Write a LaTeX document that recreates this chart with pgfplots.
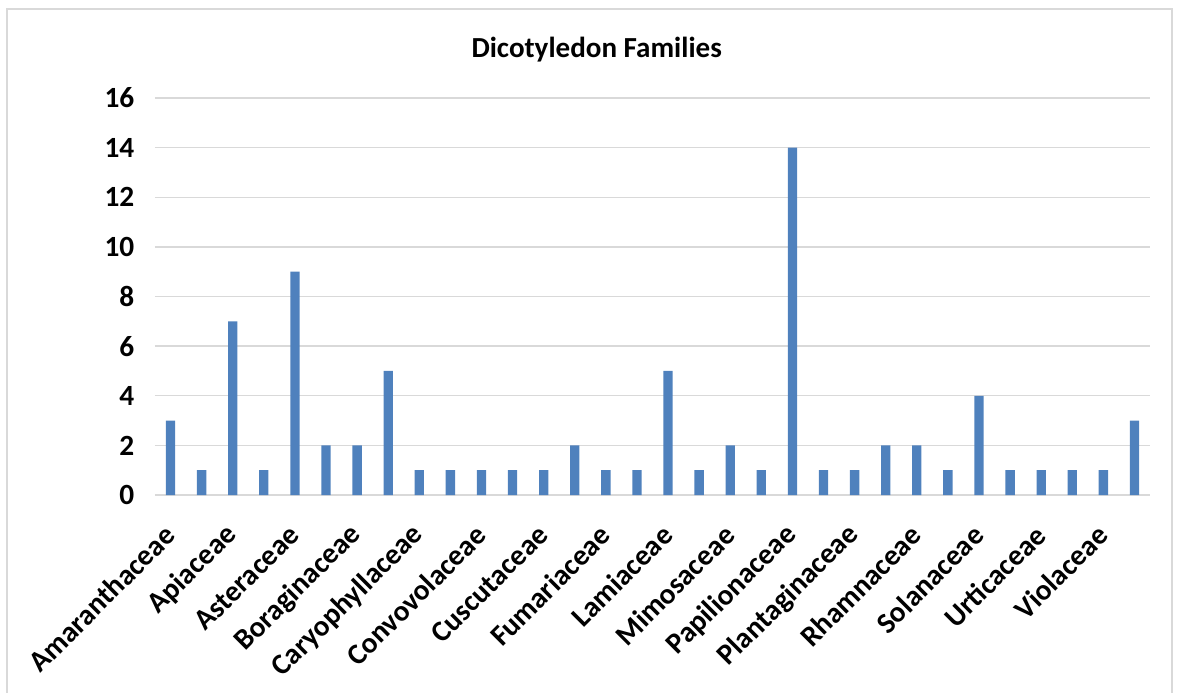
\documentclass[border=0pt]{standalone}
\usepackage{pgfplots}
\pgfplotsset{compat=1.18}
\usepackage{fontspec}
\setmainfont{Carlito}
\definecolor{barblue}{HTML}{4F81BD}
\definecolor{gridgray}{HTML}{D9D9D9}
\begin{document}
\begin{tikzpicture}
\path[use as bounding box] (0,0) rectangle (884.25pt,-519.75pt);
\draw[gridgray, line width=1.2pt] (5.25pt,-6.75pt) rectangle (879pt,-522pt);
\node[font=\fontsize{21.8}{24}\selectfont\bfseries] at (447.5pt,-37.5pt) {Dicotyledon Families};
\begin{axis}[
  at={(116.25pt,-371.25pt)}, anchor=south west,
  scale only axis, width=746.25pt, height=297.75pt,
  xmin=-0.5, xmax=31.5, ymin=0, ymax=16,
  ytick={0,2,...,16},
  xtick={0,2,...,30},
  xticklabels={Amaranthaceae,Apiaceae,Asteraceae,Boraginaceae,Caryophyllaceae,Convovolaceae,Cuscutaceae,Fumariaceae,Lamiaceae,Mimosaceae,Papilionaceae,Plantaginaceae,Rhamnaceae,Solanaceae,Urticaceae,Violaceae},
  axis line style={draw=none},
  major tick length=0pt,
  ymajorgrids, grid style={gridgray, line width=1pt},
  /pgf/number format/assume math mode=true,
  tick label style={font=\fontsize{22}{26}\selectfont\bfseries},
  yticklabel style={xshift=-12pt},
  xticklabel style={xshift=2pt, yshift=-24pt, rotate=45, anchor=east},
  clip=false,
]
\draw[gridgray, line width=1pt] (axis cs:-0.5,0) -- (axis cs:31.5,0);
\addplot[ybar, bar width=7pt, fill=barblue, draw=none] coordinates {
(0,3) (1,1) (2,7) (3,1) (4,9) (5,2) (6,2) (7,5) (8,1) (9,1) (10,1) (11,1) (12,1) (13,2) (14,1) (15,1)
(16,5) (17,1) (18,2) (19,1) (20,14) (21,1) (22,1) (23,2) (24,2) (25,1) (26,4) (27,1) (28,1) (29,1) (30,1) (31,3)
};
\end{axis}
\end{tikzpicture}
\end{document}
